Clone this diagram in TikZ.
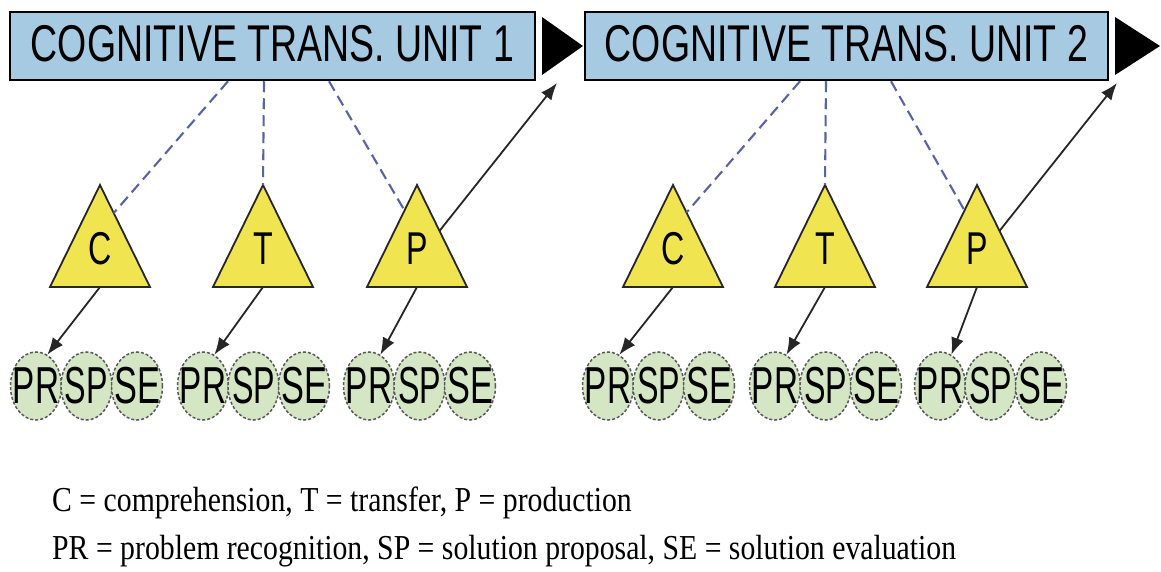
\documentclass[tikz,border=0pt]{standalone}
\usepackage{fontspec}
\setmainfont{Liberation Serif}
\newfontfamily\arialfont{Liberation Sans}
\usepackage{graphicx}
\usetikzlibrary{shapes.geometric,arrows.meta,calc}

\definecolor{boxblue}{RGB}{166,202,226}
\definecolor{triyellow}{RGB}{240,229,80}
\definecolor{stagegreen}{RGB}{212,230,196}
\definecolor{linkblue}{RGB}{88,98,168}

% horizontally condensed text
\newcommand{\condensed}[2]{\scalebox{#1}[1]{#2}}

\tikzset{
  unitbox/.style={draw=black, line width=2.5pt, fill=boxblue,
    minimum width=525pt, minimum height=68pt, inner sep=0pt,
    text height=37pt, text depth=5pt,
    font=\arialfont\fontsize{51.7}{52}\selectfont},
  flowhead/.style={fill=black, draw=none},
  tribody/.style={draw=black!85, line width=1.8pt, fill=triyellow, line join=miter},
  trilabel/.style={inner sep=0pt, font=\arialfont\fontsize{46}{46}\selectfont},
  stage/.style={ellipse, draw=black!65, dash pattern=on 3pt off 2pt, line width=1.5pt,
    fill=stagegreen, minimum width=51pt, minimum height=68pt, inner sep=0pt},
  stagelabel/.style={inner sep=0pt, font=\arialfont\fontsize{52}{52}\selectfont},
  link/.style={draw=linkblue, line width=2.1pt, dash pattern=on 11pt off 6pt},
  feed/.style={draw=black!85, line width=1.8pt, -{Latex[length=17pt,width=13pt]}},
  legend/.style={anchor=base west, inner sep=0pt, font=\fontsize{35}{35}\selectfont},
}

% triangle for a role: name, apex x, letter
\newcommand{\roletri}[3]{%
  \coordinate (#1-a) at (#2,185);
  \coordinate (#1-l) at (#2-50,287);
  \coordinate (#1-r) at (#2+50,287);
  \coordinate (#1-b) at (#2,287);
  \path[tribody] (#1-a) -- (#1-r) -- (#1-l) -- cycle;
  \node[trilabel] (#1) at (#2,249) {\condensed{0.7}{#3}};
}

% three stage ellipses: prefix, x of the first centre
\newcommand{\stagerow}[2]{%
  \node[stage] (#1pr) at (#2,386) {};
  \node[stage] (#1sp) at (#2+50.5,386) {};
  \node[stage] (#1se) at (#2+101,386) {};
}
\newcommand{\stagetext}[1]{%
  \node[stagelabel] (#1prt) at (#1pr) {\condensed{0.64}{PR}};
  \node[stagelabel] (#1spt) at (#1sp) {\condensed{0.62}{SP}};
  \node[stagelabel] (#1set) at (#1se) {\condensed{0.66}{SE}};
}

\begin{document}
\begin{tikzpicture}[x=1pt, y=-1pt]
  \fill[white] (0,0) rectangle (1161,572);
  \useasboundingbox (0,0) rectangle (1161,572);

  % unit boxes
  \node[unitbox] (u1) at (272.5,46) {\condensed{0.725}{COGNITIVE TRANS. UNIT 1}};
  \node[unitbox, minimum width=523pt] (u2) at (846.5,46) {\condensed{0.725}{COGNITIVE TRANS. UNIT 2}};

  % flow heads after each unit
  \fill[flowhead] (542,17) -- (583,46) -- (542,75) -- cycle;
  \fill[flowhead] (1115,17) -- (1160,46) -- (1115,75) -- cycle;
  \coordinate (n1) at (557,83);
  \coordinate (n2) at (1117,83);

  % roles
  \roletri{C1}{100}{C}
  \roletri{T1}{263}{T}
  \roletri{P1}{417}{P}
  \roletri{C2}{673}{C}
  \roletri{T2}{825}{T}
  \roletri{P2}{977}{P}

  % links from unit boxes to roles
  \draw[link] ([xshift=-44.5pt]u1.south) -- ($(C1-a)!0.275!(C1-r)$);
  \draw[link] ([xshift=-8.5pt]u1.south) -- (T1-a);
  \draw[link] ([xshift=56.5pt]u1.south) -- ($(P1-a)!0.25!(P1-l)$);
  \draw[link] ([xshift=-46.5pt]u2.south) -- ($(C2-a)!0.27!(C2-r)$);
  \draw[link] ([xshift=-20.5pt]u2.south) -- (T2-a);
  \draw[link] ([xshift=44.5pt]u2.south) -- ($(P2-a)!0.25!(P2-l)$);

  % production feeds the next unit
  \draw[feed] ($(P1-a)!0.45!(P1-r)$) -- (n1);
  \draw[feed] ($(P2-a)!0.45!(P2-r)$) -- (n2);

  % stages
  \stagerow{ca}{36}
  \stagerow{ta}{203}
  \stagerow{pa}{369}
  \stagerow{cb}{608}
  \stagerow{tb}{775}
  \stagerow{pb}{940}
  \stagetext{ca}
  \stagetext{ta}
  \stagetext{pa}
  \stagetext{cb}
  \stagetext{tb}
  \stagetext{pb}

  % roles to first stage
  \draw[feed] (C1-b) -- (capr.70);
  \draw[feed] (T1-b) -- (tapr.70);
  \draw[feed] (P1-b) -- (papr.70);
  \draw[feed] (C2-b) -- (cbpr.70);
  \draw[feed] (T2-b) -- (tbpr.70);
  \draw[feed] (P2-b) -- (pbpr.70);

  % legend
  \node[legend] (l1) at (52,511) {\condensed{0.85}{C = comprehension, T = transfer, P = production}};
  \node[legend] (l2) at (52,559) {\condensed{0.85}{PR = problem recognition, SP = solution proposal, SE = solution evaluation}};
\end{tikzpicture}
\end{document}
